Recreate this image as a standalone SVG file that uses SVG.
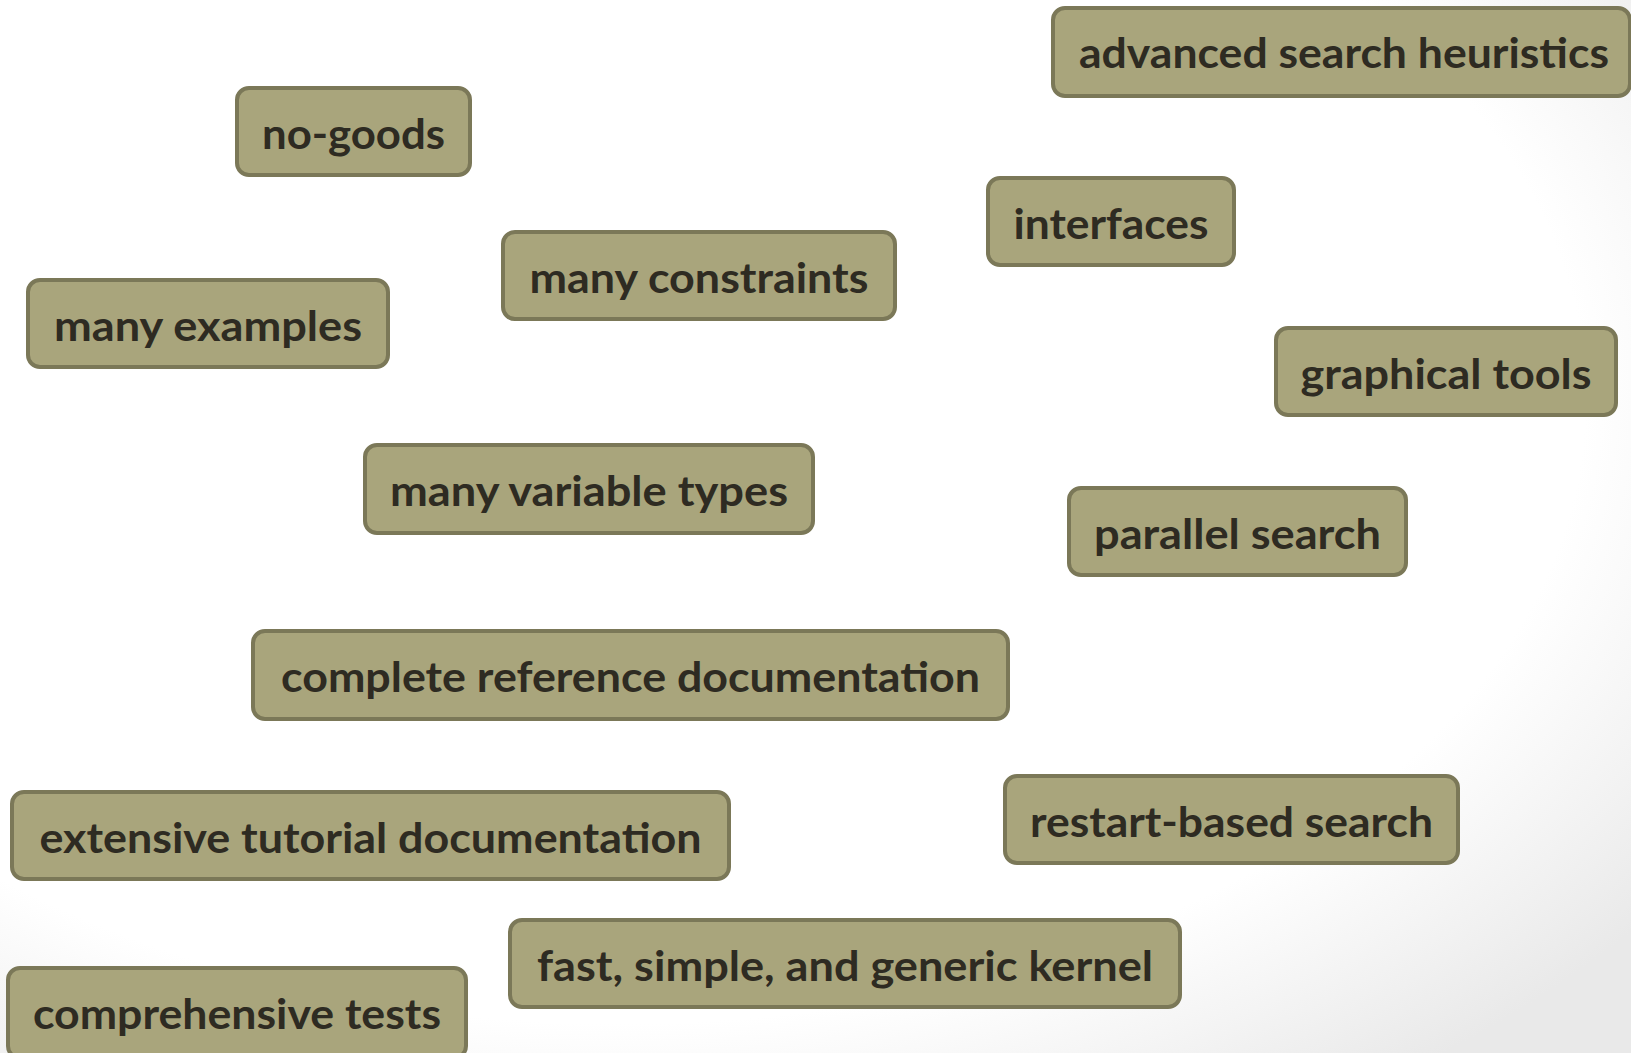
<svg xmlns="http://www.w3.org/2000/svg" width="1631" height="1053" viewBox="0 0 1631 1053">
<defs>
<radialGradient id="bg" cx="38%" cy="38%" r="80%">
<stop offset="0.74" stop-color="#ffffff"/>
<stop offset="1" stop-color="#e9e9e9"/>
</radialGradient>
<style>
.box{fill:#A9A57C;stroke:#7B7858;stroke-width:4}
.lbl{font-family:"Lato","Open Sans","Liberation Sans",sans-serif;font-weight:bold;font-size:42px;fill:#2E2B22;text-anchor:middle}
</style>
</defs>
<rect x="0" y="0" width="1631" height="1053" fill="url(#bg)"/>
<g id="connectors"></g>
<g id="n-advanced"><rect class="box" x="1053" y="8" width="577" height="88" rx="12"/><text class="lbl" x="1344" y="68" textLength="530" lengthAdjust="spacingAndGlyphs">advanced search heuristics</text></g>
<g id="n-nogoods"><rect class="box" x="237" y="88" width="233" height="87" rx="12"/><text class="lbl" x="353.5" y="149" textLength="183" lengthAdjust="spacingAndGlyphs">no-goods</text></g>
<g id="n-interfaces"><rect class="box" x="988" y="178" width="246" height="87" rx="12"/><text class="lbl" x="1111" y="239" textLength="195" lengthAdjust="spacingAndGlyphs">interfaces</text></g>
<g id="n-constraints"><rect class="box" x="503" y="232" width="392" height="87" rx="12"/><text class="lbl" x="699" y="293" textLength="339" lengthAdjust="spacingAndGlyphs">many constraints</text></g>
<g id="n-examples"><rect class="box" x="28" y="280" width="360" height="87" rx="12"/><text class="lbl" x="208" y="341" textLength="308" lengthAdjust="spacingAndGlyphs">many examples</text></g>
<g id="n-graphical"><rect class="box" x="1276" y="328" width="340" height="87" rx="12"/><text class="lbl" x="1446" y="389" textLength="291" lengthAdjust="spacingAndGlyphs">graphical tools</text></g>
<g id="n-vartypes"><rect class="box" x="365" y="445" width="448" height="88" rx="12"/><text class="lbl" x="589" y="506" textLength="398" lengthAdjust="spacingAndGlyphs">many variable types</text></g>
<g id="n-parallel"><rect class="box" x="1069" y="488" width="337" height="87" rx="12"/><text class="lbl" x="1237.5" y="549" textLength="287" lengthAdjust="spacingAndGlyphs">parallel search</text></g>
<g id="n-refdoc"><rect class="box" x="253" y="631" width="755" height="88" rx="12"/><text class="lbl" x="630.5" y="692" textLength="699" lengthAdjust="spacingAndGlyphs">complete reference documentation</text></g>
<g id="n-tutdoc"><rect class="box" x="12" y="792" width="717" height="87" rx="12"/><text class="lbl" x="370.5" y="853" textLength="662" lengthAdjust="spacingAndGlyphs">extensive tutorial documentation</text></g>
<g id="n-restart"><rect class="box" x="1005" y="776" width="453" height="87" rx="12"/><text class="lbl" x="1231.5" y="837" textLength="403" lengthAdjust="spacingAndGlyphs">restart-based search</text></g>
<g id="n-kernel"><rect class="box" x="510" y="920" width="670" height="87" rx="12"/><text class="lbl" x="845" y="981" textLength="616" lengthAdjust="spacingAndGlyphs">fast, simple, and generic kernel</text></g>
<g id="n-tests"><rect class="box" x="8" y="968" width="458" height="90" rx="12"/><text class="lbl" x="237" y="1029" textLength="408" lengthAdjust="spacingAndGlyphs">comprehensive tests</text></g>
</svg>
